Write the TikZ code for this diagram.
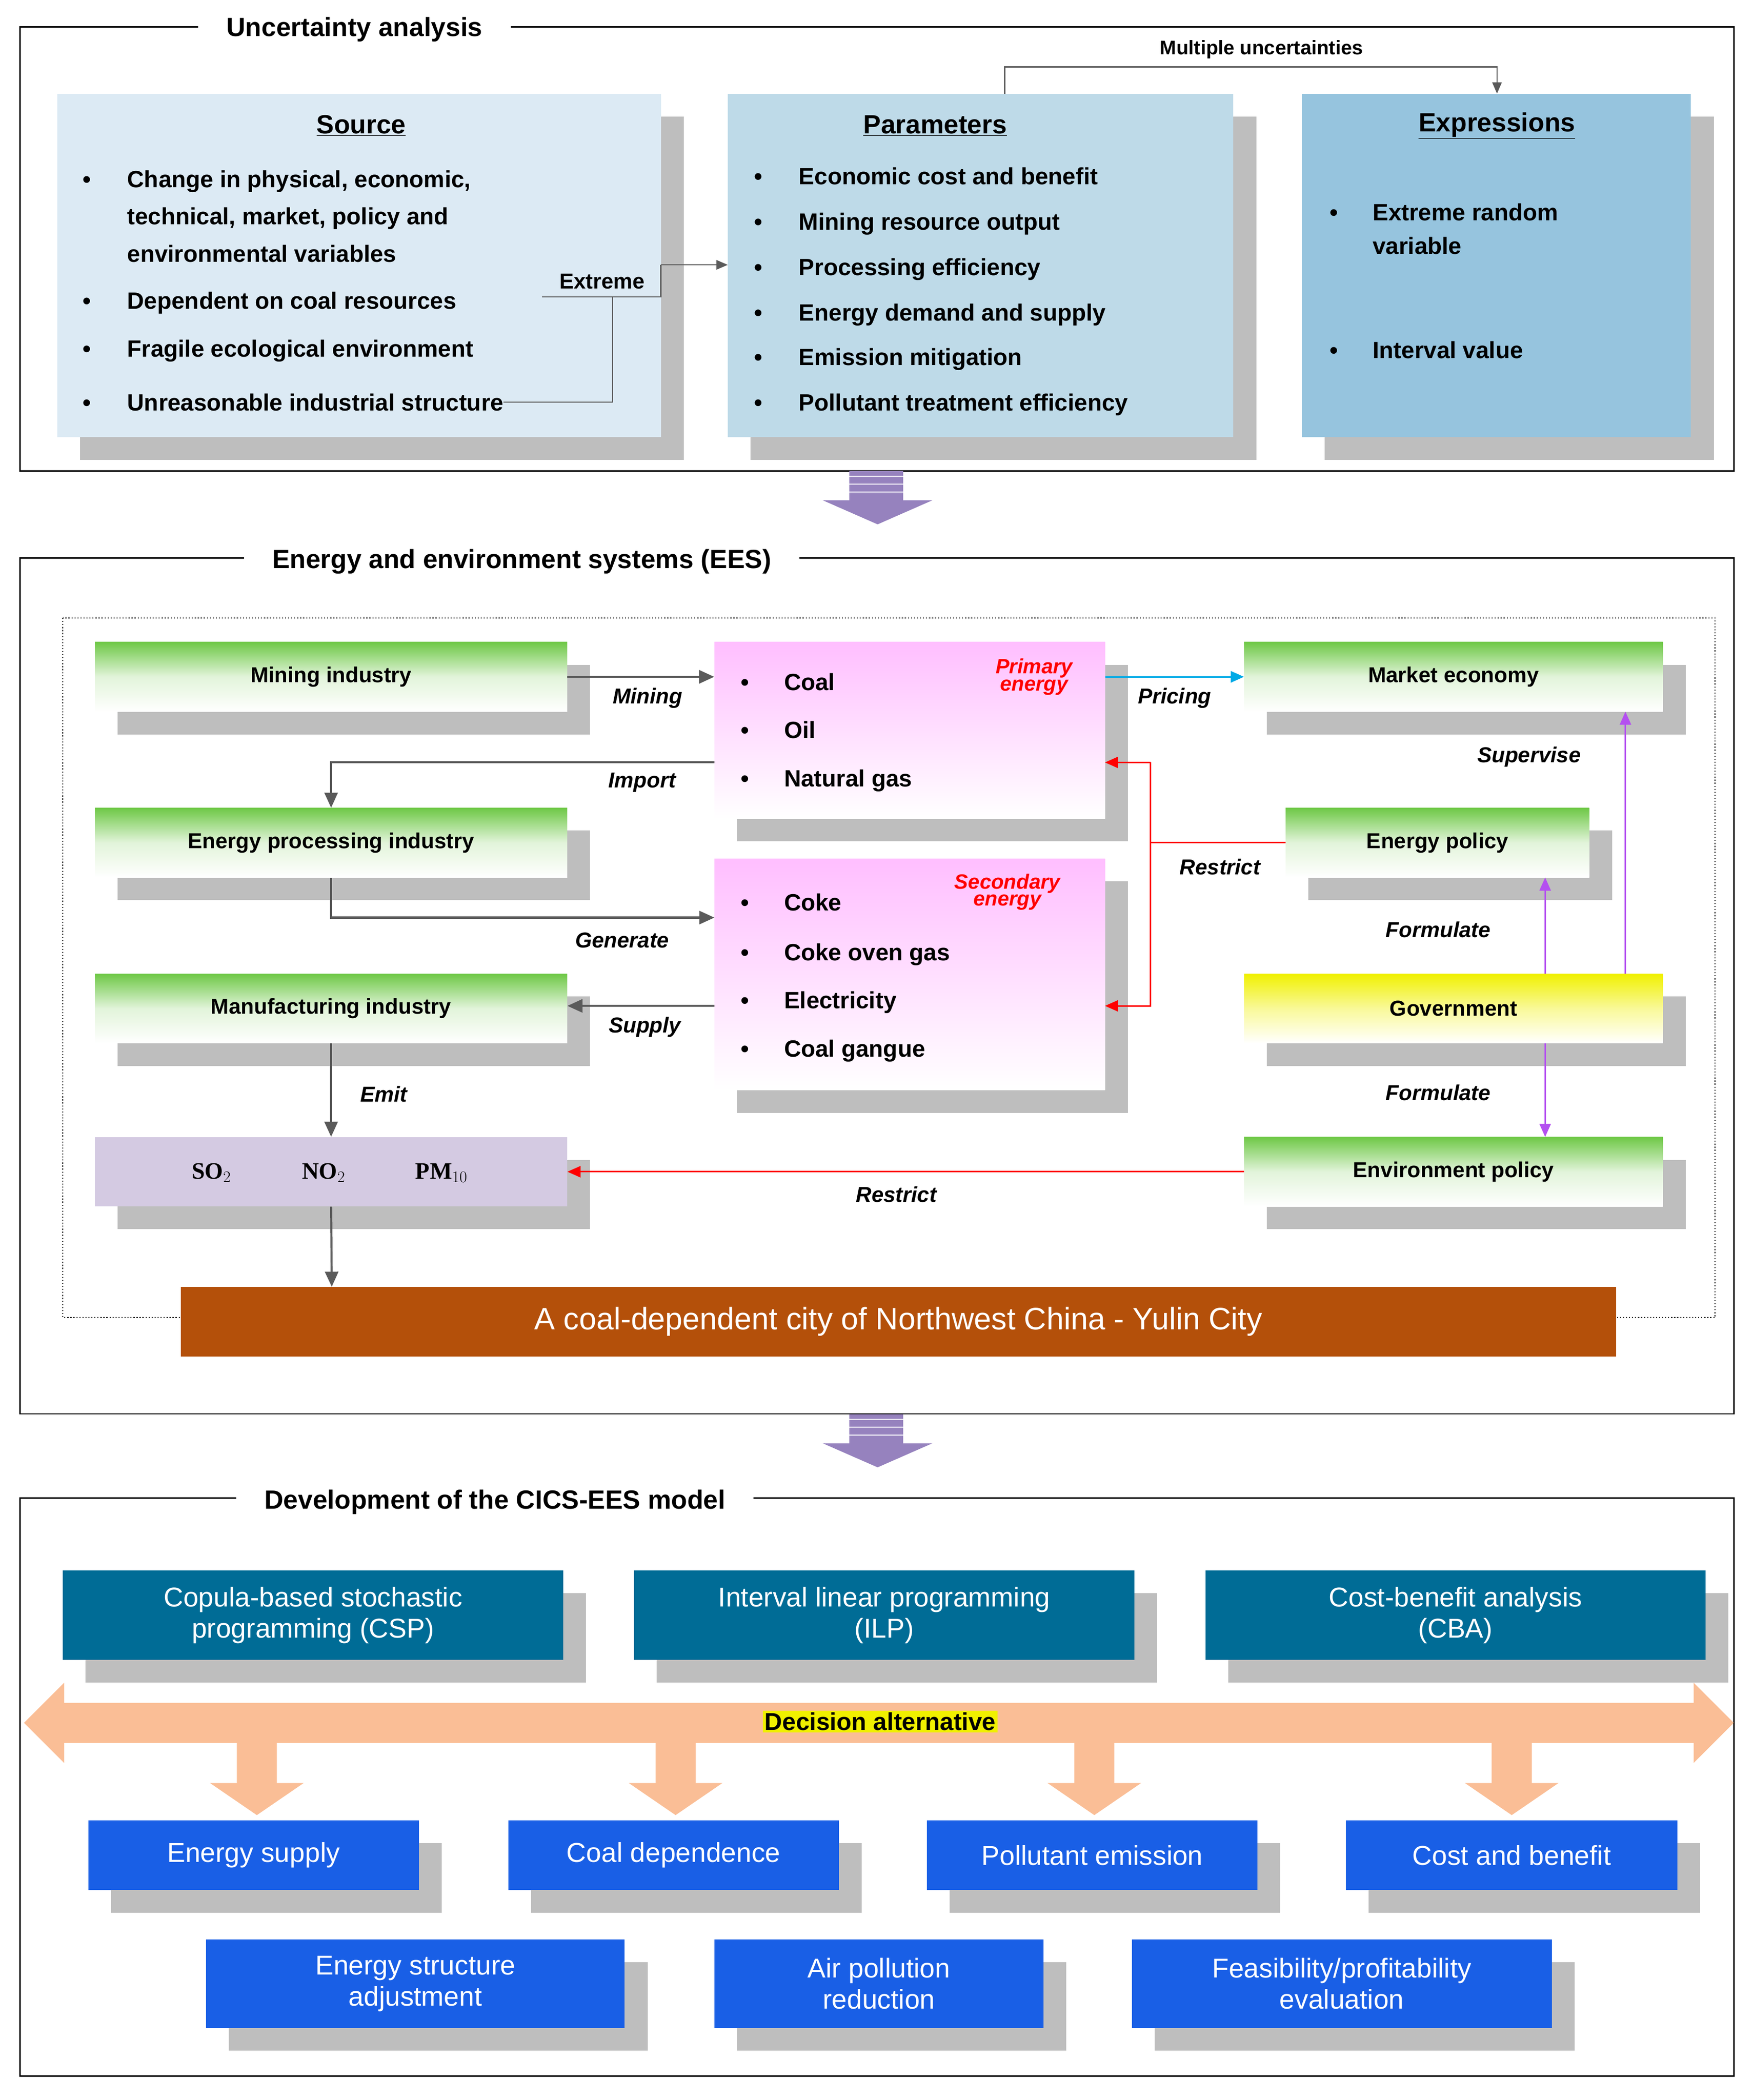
\documentclass[tikz,border=0pt]{standalone}
\usepackage{fontspec}
\setmainfont{Liberation Sans}
\newfontfamily\serf{Liberation Serif}
\usetikzlibrary{fit,arrows.meta}
\definecolor{shc}{RGB}{190,190,190}
\definecolor{srcc}{RGB}{220,234,244}
\definecolor{parc}{RGB}{190,218,232}
\definecolor{expc}{RGB}{150,196,222}
\definecolor{grn}{RGB}{110,200,70}
\definecolor{pnk}{RGB}{255,190,255}
\definecolor{ylw}{RGB}{240,240,0}
\definecolor{polc}{RGB}{212,202,226}
\definecolor{brn}{RGB}{180,80,10}
\definecolor{teal}{RGB}{0,108,150}
\definecolor{blu}{RGB}{25,95,230}
\definecolor{org}{RGB}{250,190,150}
\definecolor{pur}{RGB}{150,130,190}
\definecolor{arrg}{RGB}{90,90,90}
\definecolor{vio}{RGB}{180,80,240}
\definecolor{cyn}{RGB}{0,170,230}
\newcommand\fsz[2]{\fontsize{#1}{#2}\selectfont}
\newcommand\bx[6]{\fill[shc,shift={(17,17)}] (#1,#2) rectangle (#3,#4);
  \node[fit={(#1,#2)(#3,#4)},inner sep=0pt,#5] (#6) {};}
\tikzset{
 bt/.style={font=\fsz{25}{30}\bfseries,anchor=base west,inner sep=0pt},
 bul/.style={font=\fsz{25}{30}\bfseries,anchor=base,inner sep=0pt},
 hd/.style={font=\fsz{28}{34}\bfseries,inner sep=0pt},
 ptitle/.style={font=\fsz{28}{34}\bfseries,fill=white,inner xsep=30pt,inner ysep=2pt},
 gbox/.style={draw=none,top color=grn,bottom color=white,middle color=grn!20},
 lab/.style={font=\fsz{23}{28}\bfseries},
 alab/.style={font=\fsz{23}{28}\bfseries\itshape},
 ga/.style={draw=arrg,line width=2.2pt,-{Triangle[length=16pt,width=14pt]}},
 ra/.style={draw=red,line width=1.6pt,-{Triangle[length=14pt,width=12pt]}},
 va/.style={draw=vio,line width=1.6pt,-{Triangle[length=14pt,width=12pt]}},
 wt/.style={font=\fsz{29}{33},text=white,align=center},
}
\begin{document}
\begin{tikzpicture}[x=0.05cm,y=-0.05cm]
\useasboundingbox (0,0) rectangle (1310,1570);
% ---------- panel 1
\draw[line width=1.5pt] (15,20) rectangle (1296,352);
\node[ptitle] (t1) at (265,22) {Uncertainty analysis};
\bx{43}{70}{494}{327}{fill=srcc}{src}
\bx{544}{70}{922}{327}{fill=parc}{par}
\bx{973}{70}{1264}{327}{fill=expc}{exr}
\node[hd] (h1) at (270,94) {\underline{Source}};
\node[hd] (h2) at (699,94) {\underline{Parameters}};
\node[hd] (h3) at (1119,94) {\underline{Expressions}};
\foreach \y in {140,231,267,307} \node[bul] at (65,\y) {\textbullet};
\node[bt] (s1) at (95,140) {Change in physical, economic,};
\node[bt] (s2) at (95,168) {technical, market, policy and};
\node[bt] (s3) at (95,196) {environmental variables};
\node[bt] (s4) at (95,231) {Dependent on coal resources};
\node[bt] (s5) at (95,267) {Fragile ecological environment};
\node[bt] (s6) at (95,307) {Unreasonable industrial structure};
\foreach \y in {138,172,206,240,273,307} \node[bul] at (567,\y) {\textbullet};
\node[bt] (p1) at (597,138) {Economic cost and benefit};
\node[bt] (p2) at (597,172) {Mining resource output};
\node[bt] (p3) at (597,206) {Processing efficiency};
\node[bt] (p4) at (597,240) {Energy demand and supply};
\node[bt] (p5) at (597,273) {Emission mitigation};
\node[bt] (p6) at (597,307) {Pollutant treatment efficiency};
\foreach \y in {165,268} \node[bul] at (997,\y) {\textbullet};
\node[bt] (e1) at (1026,165) {Extreme random};
\node[bt] (e2) at (1026,190) {variable};
\node[bt] (e3) at (1026,268) {Interval value};
\node[lab,anchor=base] (ext) at (450,216) {Extreme};
\coordinate (c1) at (458,222);
\coordinate (c2) at (405,222);
\coordinate (c3) at (494,222);
\coordinate (c4) at (494,198);
\coordinate (c5) at (544,198);
\draw[arrg,line width=1.2pt] (s6.east) -| (c1);
\draw[arrg,line width=1.2pt] (c2) -- (c3) -- (c4);
\draw[arrg,line width=1.2pt,-{Triangle[length=12pt,width=10pt]}] (c4) -- (c5);
\coordinate (m1) at (751,70);
\coordinate (m2) at (1119,70);
\draw[arrg,line width=1.2pt,-{Triangle[length=12pt,width=10pt]}] (m1) -- (751,50) -| (m2);
\node[font=\fsz{21}{25}\bfseries] (mu) at (943,37) {Multiple uncertainties};
% big arrows
\foreach \yy in {352,1057} {
 \fill[pur] (635,\yy) rectangle (675,\yy+22);
 \fill[pur] (615,\yy+22) -- (697,\yy+22) -- (656,\yy+40) -- cycle;
 \foreach \k in {4,10,16} \draw[white,line width=1pt] (635,\yy+\k) -- (675,\yy+\k);
}
% ---------- panel 2
\draw[line width=1.5pt] (15,417) rectangle (1296,1057);
\node[ptitle] (t2) at (390,420) {Energy and environment systems (EES)};
\draw[dotted,line width=1.2pt] (47,462) rectangle (1282,985);
\bx{71}{480}{424}{532}{gbox}{mi}
\bx{71}{604}{424}{656}{gbox}{epi}
\bx{71}{728}{424}{780}{gbox}{man}
\bx{930}{480}{1243}{532}{gbox}{mk}
\bx{961}{604}{1188}{656}{gbox}{ep}
\bx{930}{728}{1243}{780}{draw=none,top color=ylw,bottom color=white,middle color=ylw!40}{gov}
\bx{930}{850}{1243}{902}{gbox}{env}
\bx{71}{850}{424}{902}{fill=polc}{pol}
\bx{534}{480}{826}{612}{draw=none,top color=pnk,bottom color=white}{pri}
\bx{534}{642}{826}{815}{draw=none,top color=pnk,bottom color=white}{sec}
\node[lab] at (mi) {Mining industry};
\node[lab] at (epi) {Energy processing industry};
\node[lab] at (man) {Manufacturing industry};
\node[lab] at (mk) {Market economy};
\node[lab] at (ep) {Energy policy};
\node[lab] at (gov) {Government};
\node[lab] at (env) {Environment policy};
\node[font=\serf\fsz{25}{30}\bfseries] at (158,877) {SO$_2$};
\node[font=\serf\fsz{25}{30}\bfseries] at (242,877) {NO$_2$};
\node[font=\serf\fsz{25}{30}\bfseries] at (330,877) {PM$_{10}$};
\foreach \y/\t in {516/Coal,552/Oil,588/Natural gas} {\node[bul] at (557,\y) {\textbullet}; \node[bt] at (586,\y) {\t};}
\foreach \y/\t in {681/Coke,718/Coke oven gas,754/Electricity,790/Coal gangue} {\node[bul] at (557,\y) {\textbullet}; \node[bt] at (586,\y) {\t};}
\node[font=\fsz{22}{22}\bfseries\itshape,text=red,align=center] at (773,506) {Primary\\[-4pt]energy};
\node[font=\fsz{22}{22}\bfseries\itshape,text=red,align=center] at (753,667) {Secondary\\[-4pt]energy};
\node[fit={(135,962)(1208,1014)},inner sep=0pt,fill=brn] (city) {};
\node[font=\fsz{33}{38},text=white] at (city) {A coal-dependent city of Northwest China - Yulin City};
% connectors
\draw[ga] (mi.east) -- (pri.west |- mi.east);
\node[alab] at (484,522) {Mining};
\draw[cyn,line width=1.6pt,-{Triangle[length=14pt,width=12pt]}] (pri.east |- mk.west) -- (mk.west);
\node[alab] at (878,522) {Pricing};
\draw[ga] (534,570) -| (epi.north);
\node[alab] at (480,585) {Import};
\draw[ga] (epi.south) |- (534,686);
\node[alab] at (465,703) {Generate};
\draw[ga] (534,752) -- (man.east |- 534,752);
\node[alab] at (482,768) {Supply};
\draw[ga] (man.south) -- (pol.north);
\node[alab] at (287,818) {Emit};
\draw[ga] (pol.south) -- (248,962);
\draw[red,line width=1.6pt] (ep.west |- 0,630) -- (860,630);
\draw[ra] (860,570) -- (826,570);
\draw[ra] (860,570) -- (860,752) -- (826,752);
\node[alab] at (912,648) {Restrict};
\draw[ra] (env.west) -- (pol.east);
\node[alab] at (670,893) {Restrict};
\draw[va] (1155,728) -- (1155,656);
\node[alab] at (1075,695) {Formulate};
\draw[va] (1215,728) -- (1215,532);
\node[alab] at (1143,566) {Supervise};
\draw[va] (1155,780) -- (1155,850);
\node[alab] at (1075,817) {Formulate};
% ---------- panel 3
\draw[line width=1.5pt] (15,1120) rectangle (1296,1552);
\node[ptitle] (t3) at (370,1123) {Development of the CICS-EES model};
\bx{47}{1174}{421}{1241}{fill=teal}{csp}
\bx{474}{1174}{848}{1241}{fill=teal}{ilp}
\bx{901}{1174}{1275}{1241}{fill=teal}{cba}
\node[wt] at (csp) {Copula-based stochastic\\programming (CSP)};
\node[wt] at (ilp) {Interval linear programming\\(ILP)};
\node[wt] at (cba) {Cost-benefit analysis\\(CBA)};
\fill[org] (18,1288) -- (48,1258) -- (48,1273) -- (1266,1273) -- (1266,1258) -- (1296,1288) -- (1266,1318) -- (1266,1303) -- (48,1303) -- (48,1318) -- cycle;
\node[font=\fsz{26}{30}\bfseries,fill=ylw,inner sep=2pt] (da) at (658,1287) {Decision alternative};
\foreach \xx in {192,505,818,1130} \fill[org] (\xx-15,1303) -- (\xx+15,1303) -- (\xx+15,1333) -- (\xx+35,1333) -- (\xx,1357) -- (\xx-35,1333) -- (\xx-15,1333) -- cycle;
\bx{66}{1361}{313}{1413}{fill=blu}{b1}
\bx{380}{1361}{627}{1413}{fill=blu}{b2}
\bx{693}{1361}{940}{1413}{fill=blu}{b3}
\bx{1006}{1361}{1254}{1413}{fill=blu}{b4}
\bx{154}{1450}{467}{1516}{fill=blu}{b5}
\bx{534}{1450}{780}{1516}{fill=blu}{b6}
\bx{846}{1450}{1160}{1516}{fill=blu}{b7}
\node[wt] at (b1) {Energy supply};
\node[wt] at (b2) {Coal dependence};
\node[wt] at (b3) {Pollutant emission};
\node[wt] at (b4) {Cost and benefit};
\node[wt] at (b5) {Energy structure\\adjustment};
\node[wt] at (b6) {Air pollution\\reduction};
\node[wt] at (b7) {Feasibility/profitability\\evaluation};
\end{tikzpicture}
\end{document}
